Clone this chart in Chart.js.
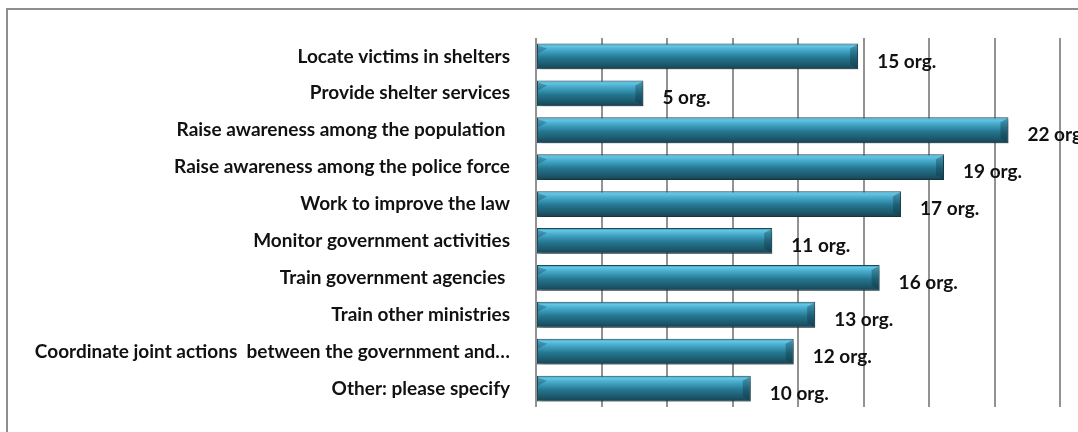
<!DOCTYPE html>
<html>
<head>
<meta charset="utf-8">
<script src="https://cdn.jsdelivr.net/npm/chart.js@4/dist/chart.umd.min.js"></script>
<style>
  html, body { margin: 0; padding: 0; background: #fff; overflow: hidden; }
  #frame {
    position: absolute; left: 6px; top: 8px; width: 1200px; height: 600px;
    border-left: 2px solid #8e8e8e; border-top: 2px solid #8e8e8e;
  }
  #wrap { position: absolute; left: 0; top: 0; width: 1078px; height: 432px; }
</style>
</head>
<body>
<div id="frame"></div>
<div id="wrap"><canvas id="activityChart" width="1078" height="432"></canvas></div>
<script>
const activities = [
    'Locate victims in shelters',
    'Provide shelter services',
    'Raise awareness among the population ',
    'Raise awareness among the police force',
    'Work to improve the law',
    'Monitor government activities',
    'Train government agencies ',
    'Train other ministries',
    'Coordinate joint actions  between the government and\u2026',
    'Other: please specify'
];
const orgCounts = [15, 5, 22, 19, 17, 11, 16, 13, 12, 10];
const countLabels = ['15 org.', '5 org.', '22 org.', '19 org.', '17 org.', '11 org.', '16 org.', '13 org.', '12 org.', '10 org.'];

const axisMax = 24.4;
const gridSteps = 8;
const barShare = 0.7;

// bar face: light top, teal middle, dark bottom
function barFill(context) {
    const chart = context.chart;
    const yScale = chart.scales.y;
    if (!yScale || !chart.chartArea) return '#2a7c98';
    const center = yScale.getPixelForValue(context.dataIndex);
    const half = (chart.chartArea.height / activities.length) * barShare / 2;
    const g = chart.ctx.createLinearGradient(0, center - half, 0, center + half);
    g.addColorStop(0, '#3b8fab');
    g.addColorStop(0.1, '#62c6e4');
    g.addColorStop(0.25, '#47aacb');
    g.addColorStop(0.55, '#247690');
    g.addColorStop(0.85, '#1c5568');
    g.addColorStop(1, '#173f4d');
    return g;
}

const barShadow = {
    id: 'barShadow',
    beforeDatasetDraw(chart) {
        const ctx = chart.ctx;
        ctx.save();
        ctx.shadowColor = 'rgba(0,0,0,0.3)';
        ctx.shadowBlur = 4;
        ctx.shadowOffsetX = 3;
        ctx.shadowOffsetY = 4;
    },
    afterDatasetDraw(chart) {
        const ctx = chart.ctx;
        ctx.restore();
        // bevelled ends
        ctx.save();
        chart.getDatasetMeta(0).data.forEach((bar) => {
            const top = bar.y - bar.height / 2;
            const bottom = bar.y + bar.height / 2;
            const left = bar.base;
            const right = bar.x;
            const b = 8;
            ctx.fillStyle = 'rgba(15,50,62,0.35)';
            ctx.beginPath();
            ctx.moveTo(right - 0.5, top + 1);
            ctx.lineTo(right - 0.5, bottom - 1);
            ctx.lineTo(right - b, bottom - 5);
            ctx.lineTo(right - b, top + 5);
            ctx.closePath();
            ctx.fill();
            ctx.fillStyle = 'rgba(20,70,90,0.35)';
            ctx.beginPath();
            ctx.moveTo(left + 1, top + 2);
            ctx.lineTo(left + b + 2, top + 5);
            ctx.lineTo(left + 1, top + 10);
            ctx.closePath();
            ctx.fill();
        });
        ctx.restore();
    }
};

const countText = {
    id: 'countText',
    afterDatasetsDraw(chart) {
        const ctx = chart.ctx;
        ctx.save();
        ctx.font = 'bold 19px Lato';
        ctx.fillStyle = '#111';
        ctx.textAlign = 'left';
        ctx.textBaseline = 'middle';
        chart.getDatasetMeta(0).data.forEach((bar, i) => {
            ctx.fillText(countLabels[i], bar.x + 19, bar.y + 5);
        });
        ctx.restore();
    }
};

new Chart(document.getElementById('activityChart').getContext('2d'), {
    type: 'bar',
    data: {
        labels: activities,
        datasets: [{
            data: orgCounts,
            backgroundColor: barFill,
            borderColor: '#1d4a5a',
            borderWidth: 1,
            borderSkipped: false,
            categoryPercentage: barShare,
            barPercentage: 1
        }]
    },
    options: {
        indexAxis: 'y',
        responsive: false,
        animation: false,
        layout: { padding: { top: 38, bottom: 25, right: 18, left: 6 } },
        plugins: {
            legend: { display: false },
            tooltip: { enabled: false }
        },
        scales: {
            x: {
                min: 0,
                max: axisMax,
                afterBuildTicks(scale) {
                    scale.ticks = [];
                    for (let i = 0; i <= gridSteps; i++) {
                        scale.ticks.push({ value: axisMax * i / gridSteps });
                    }
                },
                afterFit(scale) {
                    scale.height = 0;
                },
                ticks: { display: false },
                border: { display: false },
                grid: { color: '#929292', lineWidth: 2, drawTicks: false }
            },
            y: {
                border: { display: false },
                grid: { display: false },
                afterFit(scale) {
                    scale.width = 530;
                    scale.paddingTop = 0;
                    scale.paddingBottom = 0;
                },
                ticks: {
                    color: '#111',
                    padding: 18,
                    font: { family: 'Lato', weight: 'bold', size: 19 }
                }
            }
        }
    },
    plugins: [barShadow, countText]
});
</script>
</body>
</html>
